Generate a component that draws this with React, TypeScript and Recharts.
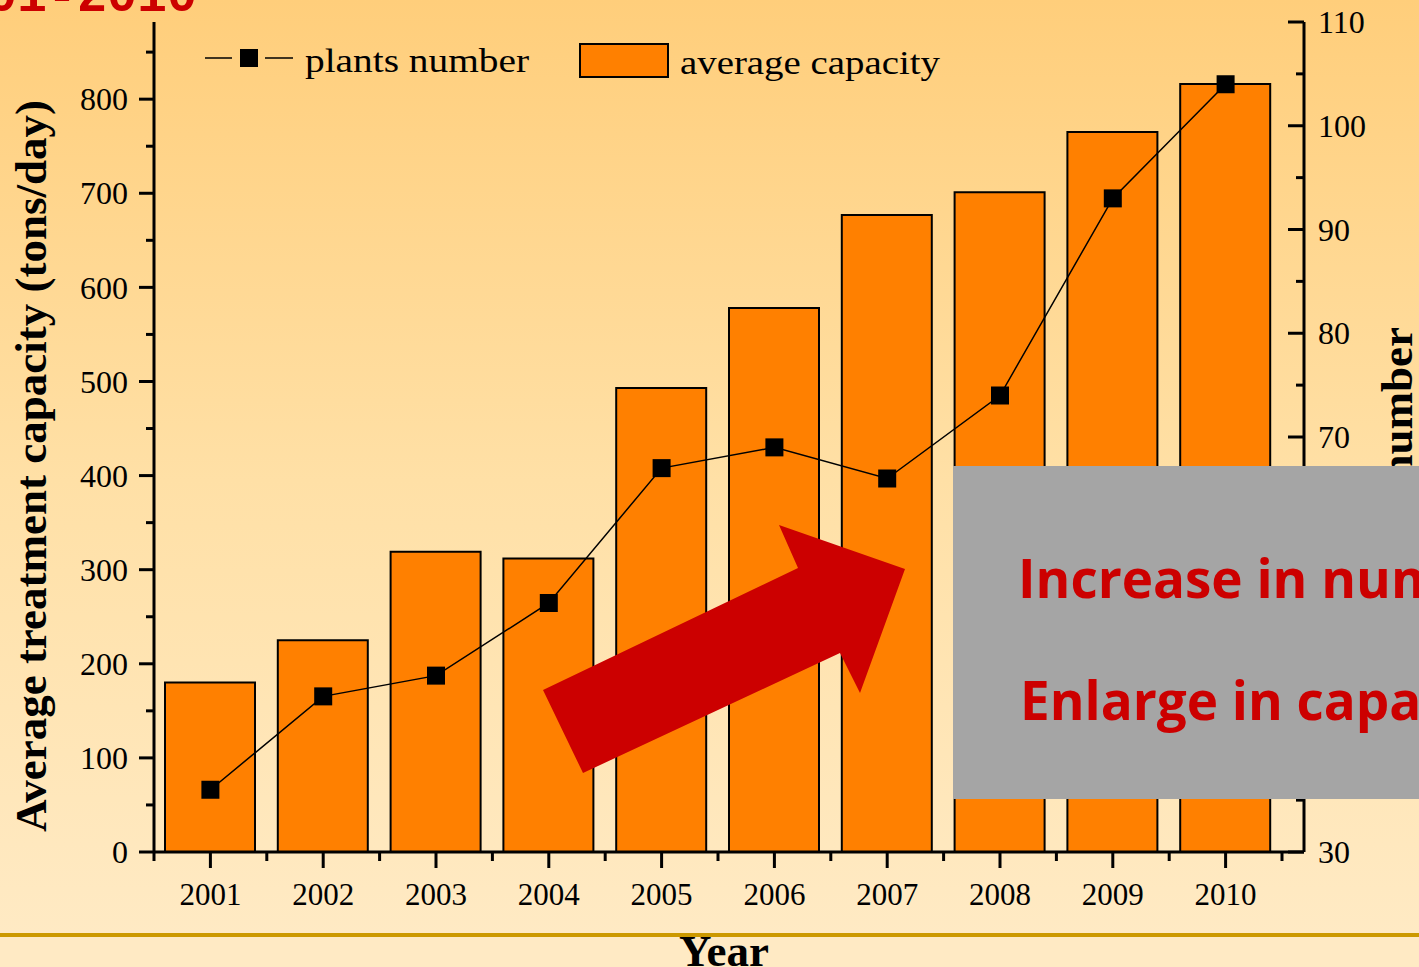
import React from "react";
import {
  ComposedChart,
  Bar,
  Line,
  XAxis,
  YAxis,
  Legend,
} from "recharts";

const years = ["2001", "2002", "2003", "2004", "2005", "2006", "2007", "2008", "2009", "2010"];
const avgCapacity = [180, 225, 319, 312, 493, 578, 677, 701, 765, 816];
const plantsNumber = [36, 45, 47, 54, 67, 69, 66, 74, 93, 104];

const leftTicks = [0, 100, 200, 300, 400, 500, 600, 700, 800];
const leftMinorTicks = [50, 150, 250, 350, 450, 550, 650, 750, 850];
const rightTicks = [30, 40, 50, 60, 70, 80, 90, 100, 110];
const rightMinorTicks = [35, 45, 55, 65, 75, 85, 95, 105];

// x positions: one slot per year, minor ticks between slots
const data = years.map((y, i) => ({
  pos: i + 1,
  year: y,
  capacity: avgCapacity[i],
  plants: plantsNumber[i],
}));
const xMajor = data.map((d) => d.pos);
const xMinor = [0.5, ...data.map((d) => d.pos + 0.5)];

const SERIF = "'Liberation Serif', 'Times New Roman', serif";
const SANS = "'Open Sans', 'Noto Sans', sans-serif";
const ORANGE = "#FF8000";
const RED = "#CC0000";

function LeftTick(props: any) {
  const { x, y, payload } = props;
  const v = payload.value;
  const major = leftTicks.includes(v);
  return (
    <g>
      <line x1={x} x2={x - (major ? 15 : 8)} y1={y} y2={y} stroke="#000" strokeWidth={3} />
      {major && (
        <text x={x - 26} y={y} dy="0.35em" textAnchor="end" fontSize={32} fontFamily={SERIF} fill="#000">
          {v}
        </text>
      )}
    </g>
  );
}

function RightTick(props: any) {
  const { x, y, payload } = props;
  const v = payload.value;
  const major = rightTicks.includes(v);
  return (
    <g>
      <line x1={x} x2={x - (major ? 16 : 8)} y1={y} y2={y} stroke="#000" strokeWidth={3} />
      {major && (
        <text x={x + 14} y={y} dy="0.35em" textAnchor="start" fontSize={32} fontFamily={SERIF} fill="#000">
          {v}
        </text>
      )}
    </g>
  );
}

function BottomTick(props: any) {
  const { x, y, payload } = props;
  const v = payload.value;
  const major = xMajor.includes(v);
  return (
    <g>
      <line x1={x} x2={x} y1={y} y2={y + (major ? 16 : 9)} stroke="#000" strokeWidth={3} />
      {major && (
        <text x={x} y={y + 53} textAnchor="middle" fontSize={31} fontFamily={SERIF} fill="#000">
          {years[v - 1]}
        </text>
      )}
    </g>
  );
}

function SquareDot(props: any) {
  const { cx, cy, index } = props;
  if (cx == null || cy == null) return <g key={index} />;
  return <rect key={index} x={cx - 9} y={cy - 9} width={18} height={18} fill="#000" />;
}

function LegendBox() {
  return (
    <svg width={760} height={60} style={{ overflow: "visible" }}>
      <line x1={5} y1={28} x2={32} y2={28} stroke="#000" strokeWidth={1.5} />
      <rect x={40} y={19} width={18} height={18} fill="#000" />
      <line x1={65} y1={28} x2={93} y2={28} stroke="#000" strokeWidth={1.5} />
      <text x={105} y={42} fontSize={33} fontFamily={SERIF} fill="#000" textLength={224} lengthAdjust="spacingAndGlyphs">
        plants number
      </text>
      <rect x={380} y={14} width={88} height={33} fill={ORANGE} stroke="#000" strokeWidth={2} />
      <text x={480} y={44} fontSize={33} fontFamily={SERIF} fill="#000" textLength={260} lengthAdjust="spacingAndGlyphs">
        average capacity
      </text>
    </svg>
  );
}

export default function App() {
  const allLeft = [...leftTicks, ...leftMinorTicks].sort((a, b) => a - b);
  const allRight = [...rightTicks, ...rightMinorTicks].sort((a, b) => a - b);
  const allX = [...xMinor, ...xMajor].sort((a, b) => a - b);
  return (
    <div
      style={{
        position: "absolute",
        left: 0,
        top: 0,
        width: 1419,
        height: 967,
        overflow: "hidden",
        background:
          "linear-gradient(180deg, #FFCE7B 0px, #FFE0A6 480px, #FFEAC4 935px, #FFEAC4 967px)",
      }}
    >
      <svg width={1419} height={967} style={{ position: "absolute", left: 0, top: 0 }}>
        <text
          x={197}
          y={11}
          textAnchor="end"
          fontSize={50}
          fontWeight="bold"
          fontFamily="'Liberation Mono', 'Courier New', monospace"
          fill={RED}
        >
          2001-2010
        </text>
        <text
          transform="translate(46,466) rotate(-90)"
          textAnchor="middle"
          fontSize={45}
          fontWeight="bold"
          fontFamily={SERIF}
          fill="#000"
        >
          Average treatment capacity (tons/day)
        </text>
        <text
          transform="translate(1412,327) rotate(-90)"
          textAnchor="end"
          fontSize={45}
          fontWeight="bold"
          fontFamily={SERIF}
          fill="#000"
        >
          Plants number
        </text>
      </svg>

      <div style={{ position: "absolute", left: 0, top: 0 }}>
        <ComposedChart
          width={1419}
          height={967}
          data={data}
          margin={{ top: 22, right: 35, bottom: 55, left: 74 }}
          barCategoryGap="10%"
        >
          <XAxis
            dataKey="pos"
            type="number"
            domain={[0.5, 10.5]}
            allowDataOverflow
            ticks={allX}
            interval={0}
            tick={<BottomTick />}
            tickSize={0}
            tickMargin={0}
            tickLine={false}
            axisLine={{ stroke: "#000", strokeWidth: 3 }}
            padding={{ left: 0, right: 22 }}
            height={60}
          />
          <YAxis
            yAxisId="left"
            domain={[0, 882]}
            allowDataOverflow
            ticks={allLeft}
            interval={0}
            tick={<LeftTick />}
            tickSize={0}
            tickMargin={0}
            tickLine={false}
            axisLine={{ stroke: "#000", strokeWidth: 3 }}
            width={80}
          />
          <YAxis
            yAxisId="right"
            orientation="right"
            domain={[30, 110]}
            allowDataOverflow
            ticks={allRight}
            interval={0}
            tick={<RightTick />}
            tickSize={0}
            tickMargin={0}
            tickLine={false}
            axisLine={{ stroke: "#000", strokeWidth: 3 }}
            width={80}
          />
          <Legend
            layout="horizontal"
            verticalAlign="middle"
            align="center"
            wrapperStyle={{ position: "absolute", left: 200, top: 30, width: 760, height: 60 }}
            content={() => <LegendBox />}
          />
          <Bar
            yAxisId="left"
            dataKey="capacity"
            name="average capacity"
            fill={ORANGE}
            stroke="#000"
            strokeWidth={2}
            barSize={90}
            isAnimationActive={false}
          />
          <Line
            yAxisId="right"
            dataKey="plants"
            name="plants number"
            type="linear"
            stroke="#000"
            strokeWidth={1.5}
            dot={SquareDot}
            activeDot={false}
            isAnimationActive={false}
          />
        </ComposedChart>
      </div>

      <svg width={1419} height={967} style={{ position: "absolute", left: 0, top: 0, pointerEvents: "none" }}>
        <polygon
          points="543,690 798,568 779,525 905,569 860,693 840,653 583,773"
          fill={RED}
        />
        <rect x={953} y={466} width={470} height={333} fill="#A5A5A5" />
        <text x={1018} y={598} fontSize={53} fontWeight="bold" fontFamily={SANS} fill={RED}>
          Increase in number
        </text>
        <text x={1020} y={720} fontSize={53} fontWeight="bold" fontFamily={SANS} fill={RED}>
          Enlarge in capacity
        </text>
        <rect x={0} y={933} width={1419} height={4} fill="#CC9900" />
        <text x={724} y={966} textAnchor="middle" fontSize={45} fontWeight="bold" fontFamily={SERIF} fill="#000">
          Year
        </text>
      </svg>
    </div>
  );
}
